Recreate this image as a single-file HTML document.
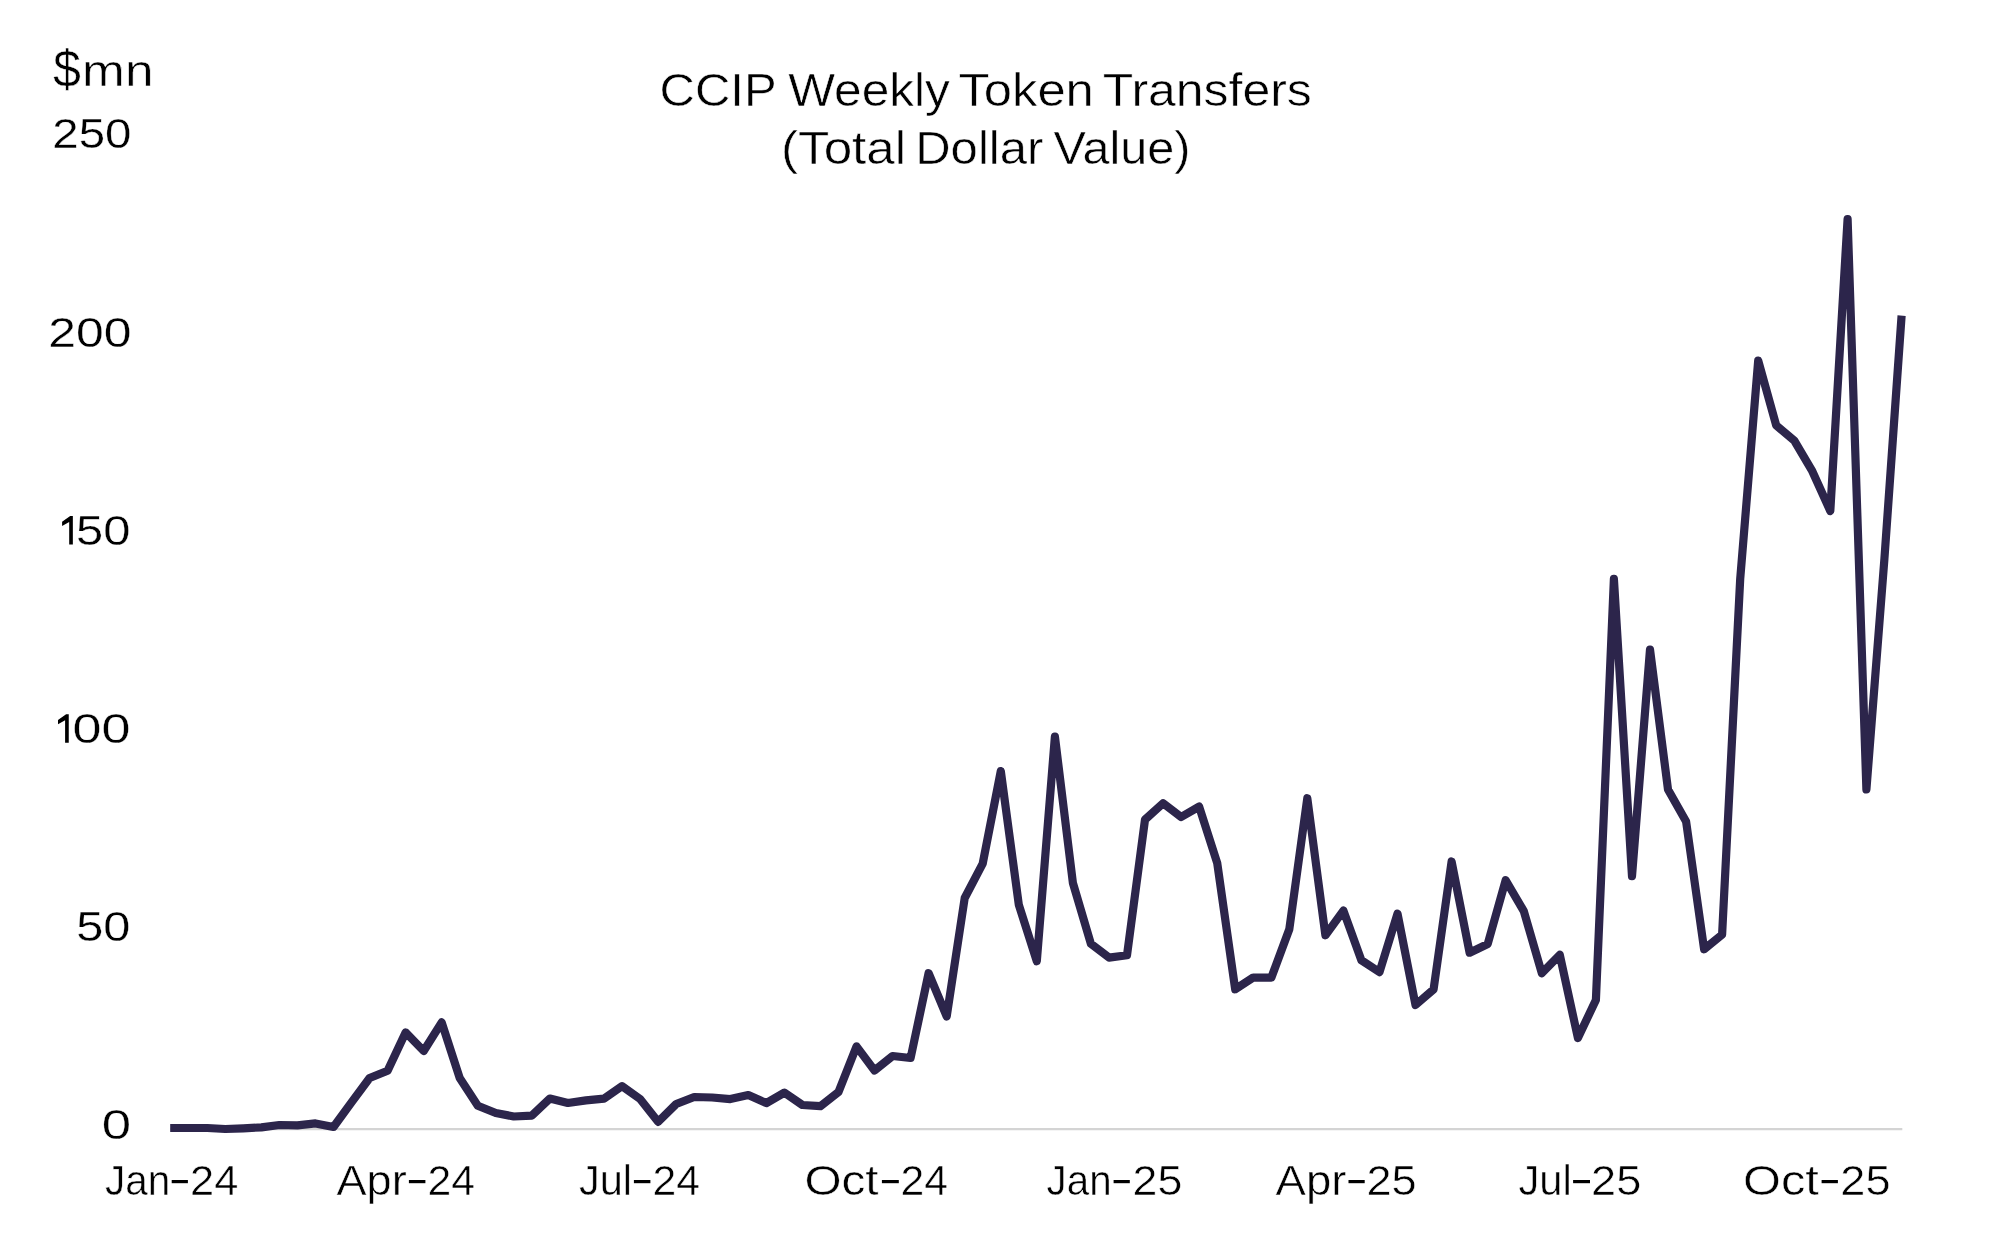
<!DOCTYPE html>
<html><head><meta charset="utf-8"><title>CCIP Weekly Token Transfers</title>
<style>
html,body{margin:0;padding:0;background:#fff;}
body{width:1996px;height:1238px;overflow:hidden;}
svg{display:block;will-change:transform;}
text{font-family:"Liberation Sans",sans-serif;fill:#000000;}
</style></head>
<body>
<svg width="1996" height="1238" viewBox="0 0 1996 1238">
<rect width="1996" height="1238" fill="#fff"/>
<line x1="170.4" y1="1129.1" x2="1902.3" y2="1129.1" stroke="#d4d4d4" stroke-width="2.2"/>
<path d="M170.2 1128 L189.2 1128 L207.3 1128 L225.3 1129 L243.3 1128.3 L261.4 1127.4 L279.4 1125 L297.4 1125.3 L315.5 1123.4 L333.5 1127 L351.5 1102.3 L369.6 1078 L387.6 1070.7 L405.6 1032.4 L423.7 1051 L441.7 1022.4 L459.7 1078 L477.8 1105.7 L495.8 1113 L513.8 1116.5 L531.9 1115.6 L549.9 1098.6 L567.9 1103 L586 1100.4 L604 1098.6 L622 1086.1 L640.1 1099 L658.1 1121.8 L676.2 1104 L694.2 1097 L712.2 1097.5 L730.3 1099.1 L748.3 1095.1 L766.3 1103.1 L784.4 1092.6 L802.4 1105 L820.4 1106.2 L838.5 1092.1 L856.5 1046.4 L874.5 1070.5 L892.6 1056 L910.6 1058 L928.6 973.2 L946.7 1016.4 L964.7 898 L982.7 863.6 L1000.8 771.1 L1018.8 904.8 L1036.8 961.2 L1054.9 736.6 L1072.9 883 L1090.9 943.8 L1109 957.6 L1127 955.2 L1145 819.6 L1163.1 803.2 L1181.1 817 L1199.1 806.6 L1217.2 862.9 L1235.2 989.3 L1253.2 977.5 L1271.3 977.7 L1289.3 929.3 L1307.3 798.2 L1325.4 935.3 L1343.4 910.6 L1361.4 960.3 L1379.5 972.1 L1397.5 913.6 L1415.5 1005 L1433.6 989.3 L1451.6 861.5 L1469.6 952.7 L1487.7 944 L1505.7 880.2 L1523.8 911.1 L1541.8 973.2 L1559.8 954.8 L1577.9 1038 L1595.9 1000 L1613.9 578.9 L1632 876.2 L1650 649.6 L1668 789.5 L1686.1 821.5 L1704.1 949.3 L1722.1 934.6 L1740.2 579 L1758.2 360.7 L1776.2 425.4 L1794.3 440.7 L1812.3 471.2 L1830.3 511 L1847.6 219 L1866.4 789.5 L1884.4 559 L1901.6 315.6" fill="none" stroke="#2c254b" stroke-width="8.2" stroke-linejoin="round" stroke-linecap="butt"/>
<text x="53" y="87" font-size="52" textLength="27.92" lengthAdjust="spacingAndGlyphs" stroke="#fff" stroke-width="0.5">$</text>
<text x="82.1" y="86" font-size="45.2" textLength="71.39" lengthAdjust="spacingAndGlyphs" stroke="#fff" stroke-width="0.5">mn</text>
<text x="131.4" y="148.4" font-size="42" text-anchor="end" textLength="79.14" lengthAdjust="spacingAndGlyphs" stroke="#fff" stroke-width="0.3">250</text>
<text x="131.4" y="346.6" font-size="42" text-anchor="end" textLength="83.13" lengthAdjust="spacingAndGlyphs" stroke="#fff" stroke-width="0.3">200</text>
<text x="130.4" y="544.8" font-size="42" text-anchor="end" textLength="54.37" lengthAdjust="spacingAndGlyphs" stroke="#fff" stroke-width="0.3">50</text>
<text x="130.4" y="743" font-size="42" text-anchor="end" textLength="57.9" lengthAdjust="spacingAndGlyphs" stroke="#fff" stroke-width="0.3">00</text>
<text x="130.4" y="941.2" font-size="42" text-anchor="end" textLength="54.22" lengthAdjust="spacingAndGlyphs" stroke="#fff" stroke-width="0.3">50</text>
<text x="131.2" y="1139.4" font-size="42" text-anchor="end" textLength="29.32" lengthAdjust="spacingAndGlyphs" stroke="#fff" stroke-width="0.3">0</text>
<text x="105" y="1194.5" font-size="42.3" textLength="65.27" lengthAdjust="spacingAndGlyphs" stroke="#fff" stroke-width="0.5">Jan</text>
<text x="238.3" y="1194.5" font-size="42.3" text-anchor="end" textLength="48.24" lengthAdjust="spacingAndGlyphs" stroke="#fff" stroke-width="0.5">24</text>
<text x="336.4" y="1194.5" font-size="42.3" textLength="70.29" lengthAdjust="spacingAndGlyphs" stroke="#fff" stroke-width="0.5">Apr</text>
<text x="475.1" y="1194.5" font-size="42.3" text-anchor="end" textLength="47.55" lengthAdjust="spacingAndGlyphs" stroke="#fff" stroke-width="0.5">24</text>
<text x="579" y="1194.5" font-size="42.3" textLength="53.11" lengthAdjust="spacingAndGlyphs" stroke="#fff" stroke-width="0.5">Jul</text>
<text x="700.1" y="1194.5" font-size="42.3" text-anchor="end" textLength="47.55" lengthAdjust="spacingAndGlyphs" stroke="#fff" stroke-width="0.5">24</text>
<text x="804.4" y="1194.5" font-size="42.3" textLength="74.22" lengthAdjust="spacingAndGlyphs" stroke="#fff" stroke-width="0.5">Oct</text>
<text x="948.1" y="1194.5" font-size="42.3" text-anchor="end" textLength="47.58" lengthAdjust="spacingAndGlyphs" stroke="#fff" stroke-width="0.5">24</text>
<text x="1046.6" y="1194.5" font-size="42.3" textLength="64.94" lengthAdjust="spacingAndGlyphs" stroke="#fff" stroke-width="0.5">Jan</text>
<text x="1182.3" y="1194.5" font-size="42.3" text-anchor="end" textLength="49.75" lengthAdjust="spacingAndGlyphs" stroke="#fff" stroke-width="0.5">25</text>
<text x="1275.6" y="1194.5" font-size="42.3" textLength="70.91" lengthAdjust="spacingAndGlyphs" stroke="#fff" stroke-width="0.5">Apr</text>
<text x="1416.7" y="1194.5" font-size="42.3" text-anchor="end" textLength="50.21" lengthAdjust="spacingAndGlyphs" stroke="#fff" stroke-width="0.5">25</text>
<text x="1518.4" y="1194.5" font-size="42.3" textLength="53.32" lengthAdjust="spacingAndGlyphs" stroke="#fff" stroke-width="0.5">Jul</text>
<text x="1641.3" y="1194.5" font-size="42.3" text-anchor="end" textLength="50.2" lengthAdjust="spacingAndGlyphs" stroke="#fff" stroke-width="0.5">25</text>
<text x="1743" y="1194.5" font-size="42.3" textLength="75.87" lengthAdjust="spacingAndGlyphs" stroke="#fff" stroke-width="0.5">Oct</text>
<text x="1890.5" y="1194.5" font-size="42.3" text-anchor="end" textLength="50.19" lengthAdjust="spacingAndGlyphs" stroke="#fff" stroke-width="0.5">25</text>
<text x="659.6" y="106" font-size="46" textLength="116.99" lengthAdjust="spacingAndGlyphs" stroke="#fff" stroke-width="0.5">CCIP</text>
<text x="788.2" y="106" font-size="46" textLength="161.69" lengthAdjust="spacingAndGlyphs" stroke="#fff" stroke-width="0.5">Weekly</text>
<text x="958.4" y="106" font-size="46" textLength="135.46" lengthAdjust="spacingAndGlyphs" stroke="#fff" stroke-width="0.5">Token</text>
<text x="1102.8" y="106" font-size="46" textLength="208.92" lengthAdjust="spacingAndGlyphs" stroke="#fff" stroke-width="0.5">Transfers</text>
<text x="781" y="164" font-size="46" textLength="125.19" lengthAdjust="spacingAndGlyphs" stroke="#fff" stroke-width="0.5">(Total</text>
<text x="915.2" y="164" font-size="46" textLength="128.1" lengthAdjust="spacingAndGlyphs" stroke="#fff" stroke-width="0.5">Dollar</text>
<text x="1053.6" y="164" font-size="46" textLength="136.96" lengthAdjust="spacingAndGlyphs" stroke="#fff" stroke-width="0.5">Value)</text>
<rect x="171.7" y="1180" width="16.2" height="3.2" fill="#000000"/>
<rect x="408.9" y="1180" width="16.5" height="3.2" fill="#000000"/>
<rect x="633.9" y="1180" width="16.5" height="3.2" fill="#000000"/>
<rect x="881.9" y="1180" width="16.9" height="3.2" fill="#000000"/>
<rect x="1113.6" y="1180" width="16.2" height="3.2" fill="#000000"/>
<rect x="1348.5" y="1180" width="16.2" height="3.2" fill="#000000"/>
<rect x="1573.1" y="1180" width="16.9" height="3.2" fill="#000000"/>
<rect x="1821.6" y="1180" width="16.3" height="3.2" fill="#000000"/>
<path d="M70.2 516 L72.85 516 L72.85 544.6 L69.2 544.6 L69.2 522 L62.1 526 L62.1 521.8 Z" fill="#000000"/>
<path d="M66.1 714.3 L68.75 714.3 L68.75 742.7 L65.1 742.7 L65.1 720.3 L58 724.3 L58 720.1 Z" fill="#000000"/>
</svg>
</body></html>
